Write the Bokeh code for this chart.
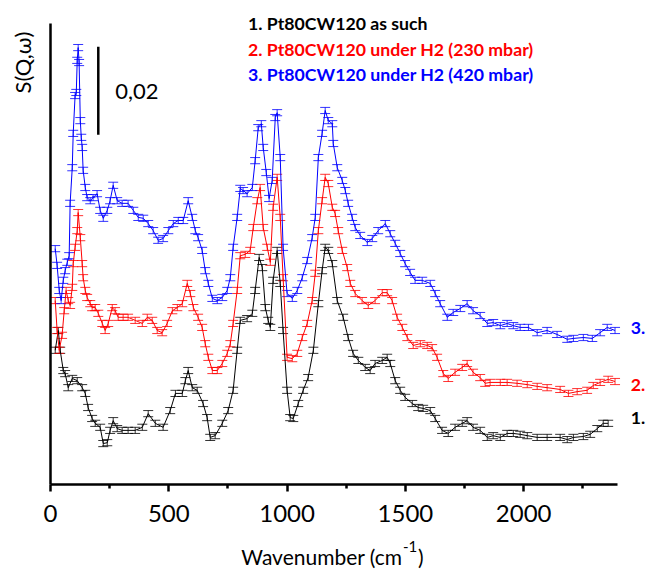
from bokeh.plotting import figure
from bokeh.models import ColumnDataSource, Whisker, TeeHead, Label, FixedTicker, Range1d
from bokeh.embed import file_html
from bokeh.resources import INLINE
import math

# ---------------- data (S in units of 1e-3, curves offset as in the original) -------------
wn_1 = [20,33,41,54,62,75,92,113,134,147,159,176,189,210,223,240,252,265,282,303,
        328,358,388,413,443,476,506,528,557,570,582,599,620,645,662,675,696,726,751,772,
        789,802,831,853,865,882,895,908,920,929,941,958,971,983,1000,1013,1026,1047,1068,1089,
        1111,1132,1148,1161,1174,1191,1212,1237,1258,1279,1301,1330,1351,1372,1402,1423,1436,1457,1478,1499,
        1529,1554,1575,1605,1626,1655,1681,1710,1740,1761,1786,1816,1846,1871,1901,1930,1956,1985,2015,2057,
        2099,2154,2184,2210,2252,2281,2311,2336,2357]
s_1 = [30.5,35.0,30.5,25.9,25.2,22.0,24.1,23.6,22.0,20.7,17.5,15.0,13.9,13.0,9.3,9.5,12.3,14.5,12.7,12.3,
       12.3,12.3,13.0,16.1,13.9,13.0,16.8,20.7,20.7,23.6,25.9,22.0,21.4,18.4,15.2,10.7,11.1,13.9,16.8,21.4,
       30.5,37.3,37.7,38.9,44.1,51.6,49.3,40.2,37.3,35.7,46.4,53.2,45.7,35.0,21.4,15.2,15.0,18.4,21.4,24.3,
       30.5,41.1,48.6,53.9,53.2,50.2,41.8,38.0,33.4,29.8,28.2,26.6,25.9,27.5,28.2,28.9,27.5,23.6,21.4,19.8,
       18.4,17.5,17.3,16.8,15.0,12.3,11.6,13.0,13.9,14.5,13.0,12.3,10.7,11.1,10.7,11.6,11.6,11.4,11.1,10.7,
       10.7,10.7,10.2,10.7,10.9,11.4,12.7,13.9,13.9]

wn_2 = [20,28,37,49,58,66,75,83,92,96,104,113,117,126,134,138,147,155,168,176,
        189,202,219,231,244,261,273,286,307,328,358,388,409,430,451,472,493,515,536,557,
        578,591,604,624,641,654,667,684,705,726,747,760,772,789,802,823,844,857,874,886,
        899,916,929,941,958,971,983,1000,1022,1043,1064,1085,1106,1119,1132,1148,1161,1174,1191,1203,
        1216,1233,1254,1267,1288,1317,1343,1372,1402,1423,1444,1465,1487,1508,1533,1563,1592,1613,1634,1660,
        1681,1710,1740,1761,1786,1816,1837,1858,1901,1930,1972,2015,2057,2099,2154,2189,2226,2268,2294,2323,
        2357,2386]
s_2 = [41.8,35.0,30.5,33.9,39.5,44.1,41.8,40.7,44.8,50.2,53.9,57.7,61.8,56.1,50.2,47.0,44.1,42.5,41.1,40.2,
       40.2,38.9,36.6,35.0,36.6,40.2,39.5,38.0,38.0,38.0,37.3,36.6,38.0,37.3,35.0,34.5,36.6,39.5,40.2,41.1,
       45.7,43.4,40.2,38.0,35.7,32.0,28.9,25.9,25.9,27.5,29.8,32.0,36.6,44.1,52.0,52.3,53.2,58.4,64.5,67.5,
       58.4,53.9,50.5,63.0,69.8,60.7,47.0,28.9,28.6,29.8,33.4,36.6,41.8,48.0,57.7,64.5,69.8,68.4,63.0,61.6,
       57.7,53.2,49.3,45.7,43.4,41.8,40.7,41.8,43.6,43.6,41.8,38.0,35.7,33.4,31.6,32.0,31.6,31.1,28.9,25.2,
       24.1,25.5,26.6,27.5,25.5,24.3,23.0,23.2,23.2,23.2,23.0,22.7,22.3,22.0,21.6,20.7,21.1,21.4,22.5,23.2,
       23.9,23.4]

wn_3 = [20,28,37,45,54,62,71,79,83,92,96,104,109,113,117,121,126,130,134,138,
        147,155,168,180,197,210,223,240,252,265,282,303,328,350,371,392,413,434,455,476,
        498,519,540,561,582,599,612,624,641,654,667,684,705,726,747,760,772,789,802,814,
        831,853,865,878,891,899,912,924,937,950,958,971,983,1000,1022,1043,1064,1085,1106,1119,
        1132,1148,1161,1174,1191,1195,1212,1233,1246,1258,1275,1288,1309,1339,1360,1385,1415,1436,1457,1478,
        1499,1520,1541,1571,1605,1626,1647,1677,1702,1732,1761,1786,1816,1846,1871,1901,1930,1956,1985,2020,
        2057,2099,2141,2184,2210,2252,2290,2323,2353,2386]
s_3 = [53.6,49.8,44.1,41.8,46.4,48.6,50.5,52.0,63.9,72.0,79.8,88.4,89.1,96.4,99.3,95.9,82.7,78.9,76.6,71.4,
       67.5,65.2,64.5,65.2,66.1,62.3,60.5,62.3,64.5,68.0,64.5,63.9,63.9,62.3,60.7,60.5,59.3,57.7,55.5,55.9,
       57.7,59.3,60.0,60.0,64.5,60.7,57.7,56.1,53.2,48.6,45.7,42.3,41.8,42.5,44.1,47.0,53.9,60.7,67.3,66.8,
       66.1,67.5,73.6,81.1,82.0,76.6,70.9,65.0,69.1,83.4,84.5,74.3,53.9,43.4,42.3,44.1,47.0,50.9,56.1,60.7,
       74.3,79.8,85.0,82.7,82.0,77.5,72.0,69.1,66.8,63.9,60.7,58.4,56.6,55.0,55.9,57.7,59.3,57.0,54.8,52.5,
       50.2,48.2,46.4,46.4,45.7,43.4,41.1,38.0,39.1,40.0,41.1,39.5,38.4,36.6,36.8,36.1,36.6,36.1,35.7,35.7,
       34.5,35.0,34.1,33.0,33.2,33.4,33.2,34.5,35.7,35.0]

err = 0.7          # error bar half-height (1e-3 units)
scale_bar = 20     # 0,02 in 1e-3 units

series_names = ["1. Pt80CW120 as such",
                "2. Pt80CW120 under H2 (230 mbar)",
                "3. Pt80CW120 under H2 (420 mbar)"]
end_labels = ["1.", "2.", "3."]
colors = ["#000000", "#FF0000", "#0000FF"]
x_ticks = [0, 500, 1000, 1500, 2000]
x_minor = [250, 750, 1250, 1750, 2250]
x_axis_end = 2398
y_axis_end = 104.8

FONT = "Lato"

# the frame fills the canvas; both axes sit at data 0 (fixed_location), so all texts can be placed freely
p = figure(width=647, height=570, output_backend="svg", toolbar_location=None,
           x_range=Range1d(-211.3, 2523.2), y_range=Range1d(-19.55, 110.0),
           min_border_left=0, min_border_right=0, min_border_top=0, min_border_bottom=0)
p.outline_line_color = None
p.xgrid.visible = False
p.ygrid.visible = False
p.background_fill_color = "white"
p.border_fill_color = "white"

# x axis
xa = p.xaxis[0]
xa.fixed_location = 0
xa.bounds = (0, x_axis_end)
xa.ticker = FixedTicker(ticks=x_ticks, minor_ticks=x_minor)
xa.axis_line_width = 2.5
xa.major_tick_line_width = 2.5
xa.minor_tick_line_width = 2.5
xa.major_tick_out = 7
xa.major_tick_in = 0
xa.minor_tick_out = 4
xa.minor_tick_in = 0
xa.major_label_text_font = FONT
xa.major_label_text_font_size = "24px"
xa.major_label_text_color = "black"
xa.major_label_standoff = 14

# y axis: line only
ya = p.yaxis[0]
ya.fixed_location = 0
ya.bounds = (0, y_axis_end)
ya.ticker = FixedTicker(ticks=[])
ya.axis_line_width = 2.5
ya.major_tick_out = 0
ya.minor_tick_out = 0
ya.major_label_text_font_size = "0px"

data = [(wn_1, s_1), (wn_2, s_2), (wn_3, s_3)]
for (wx, sy), c in zip(data, colors):
    src = ColumnDataSource(dict(x=wx, y=sy,
                                lo=[v - err for v in sy], hi=[v + err for v in sy]))
    p.line("x", "y", source=src, line_color=c, line_width=1)
    w = Whisker(base="x", upper="hi", lower="lo", source=src, dimension="height",
                line_color=c, line_alpha=0.8, line_width=1,
                upper_head=TeeHead(size=10, line_color=c, line_alpha=0.8, line_width=1),
                lower_head=TeeHead(size=10, line_color=c, line_alpha=0.8, line_width=1))
    p.add_layout(w)

# scale bar
p.segment(x0=[202], y0=[99.5 - scale_bar], x1=[202], y1=[99.5], line_color="black", line_width=2.5)
p.add_layout(Label(x=274, y=89.3, text="0,02", text_font=FONT, text_font_size="22px",
                   text_color="black", text_baseline="middle", text_align="left"))

# legend texts
for i, (name, c) in enumerate(zip(series_names, colors)):
    p.add_layout(Label(x=835, y=[104.8, 98.9, 93.2][i], text=name, text_font=FONT,
                       text_font_size="17.7px", text_font_style="bold", text_color=c,
                       text_baseline="middle", text_align="left"))

# end labels at the right edge
for i, (lab, c) in enumerate(zip(end_labels, colors)):
    p.add_layout(Label(x=2452, y=[15.0, 22.5, 35.5][i], text=lab, text_font=FONT,
                       text_font_size="17.7px", text_font_style="bold", text_color=c,
                       text_baseline="middle", text_align="left"))

# y axis title (near the top of the axis, reading upwards)
p.add_layout(Label(x=-118.4, y=95.9, text="S(Q,\u03c9)", text_font=FONT, text_font_size="22px",
                   text_color="black", angle=math.pi / 2, text_align="center",
                   text_baseline="middle"))

# x axis title with superscript
p.add_layout(Label(x=1488, y=-16.4, text="Wavenumber (cm", text_font=FONT, text_font_size="21px",
                   text_color="black", text_align="right", text_baseline="alphabetic"))
p.add_layout(Label(x=1490, y=-14.2, text="-1", text_font=FONT, text_font_size="15px",
                   text_color="black", text_align="left", text_baseline="alphabetic"))
p.add_layout(Label(x=1553, y=-16.4, text=")", text_font=FONT, text_font_size="21px",
                   text_color="black", text_align="left", text_baseline="alphabetic"))

open("out.html", "w").write(file_html(p, INLINE))
